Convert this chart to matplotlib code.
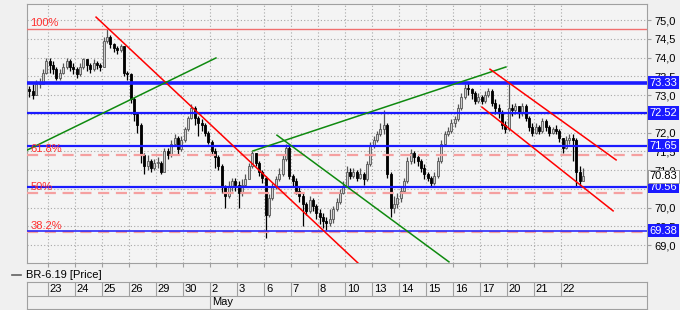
import matplotlib.pyplot as plt
from matplotlib.lines import Line2D
import matplotlib.transforms as mtransforms

plt.rcParams['font.family'] = ['Liberation Sans', 'DejaVu Sans']

# price bars per trading day (first group = tail of the previous day)
day_labels = ["23", "24", "25", "26", "29", "30", "2", "3", "6", "7", "8",
              "10", "13", "14", "15", "16", "17", "20", "21", "22"]
first_open = 73.15
closes = [
    [73.10, 73.00, 73.30, 73.30, 73.60, 73.90],
    [73.80, 73.70, 73.45, 73.60, 73.75, 73.90, 73.75, 73.70],
    [73.55, 73.75, 73.95, 73.80, 73.70, 73.85, 73.80, 73.75],
    [74.45, 74.55, 74.35, 74.25, 74.20, 74.30, 73.60, 73.55],
    [72.90, 72.50, 72.20, 71.40, 71.10, 71.25, 71.05, 71.20],
    [71.20, 70.95, 71.50, 71.40, 71.70, 71.85, 71.55, 71.80],
    [72.10, 72.40, 72.65, 72.40, 72.25, 72.20, 72.00, 71.75],
    [71.50, 71.35, 71.10, 70.55, 70.30, 70.55, 70.70, 70.60],
    [70.40, 70.60, 70.75, 71.10, 71.45, 71.20, 70.95, 70.80],
    [69.80, 70.25, 70.55, 70.75, 70.90, 71.30, 71.60, 70.85],
    [70.70, 70.45, 70.30, 70.10, 69.90, 70.20, 70.05, 69.85],
    [69.75, 69.65, 69.60, 69.70, 69.95, 70.15, 70.40, 70.55],
    [70.95, 70.85, 70.95, 70.80, 70.90, 70.75, 71.15, 71.65],
    [71.80, 71.95, 72.10, 72.20, 70.90, 70.00, 70.10, 70.25],
    [70.45, 70.70, 71.25, 71.45, 71.35, 71.25, 71.05, 70.90],
    [70.80, 70.65, 70.85, 71.25, 71.70, 71.95, 72.05, 72.25],
    [72.35, 72.65, 72.95, 73.20, 73.15, 73.05, 72.85, 72.95],
    [72.85, 73.00, 73.10, 72.80, 72.65, 72.55, 72.20, 72.10],
    [72.65, 72.60, 72.70, 72.55, 72.70, 72.40, 72.15, 72.00],
    [72.15, 72.05, 72.30, 72.15, 72.00, 72.10, 72.05, 71.85],
    [71.60, 71.80, 71.85, 71.80, 70.95, 70.70, 70.83],
]
highs = [
    [73.25, 73.30, 73.40, 73.45, 73.70, 74.00],
    [74.00, 73.90, 73.75, 73.70, 73.85, 74.00, 73.95, 73.85],
    [73.75, 73.85, 74.00, 73.95, 73.85, 73.95, 73.90, 73.85],
    [74.55, 74.75, 74.60, 74.40, 74.30, 74.35, 74.30, 73.65],
    [73.60, 72.95, 72.55, 72.25, 71.45, 71.40, 71.30, 71.30],
    [71.35, 71.25, 71.60, 71.60, 71.80, 71.95, 71.90, 71.90],
    [72.15, 72.45, 72.75, 72.70, 72.45, 72.35, 72.25, 72.05],
    [71.80, 71.60, 71.40, 71.15, 70.60, 70.70, 70.80, 70.80],
    [70.70, 70.75, 70.90, 71.20, 71.50, 71.45, 71.25, 71.00],
    [70.85, 70.35, 70.65, 70.85, 71.05, 71.40, 71.70, 71.65],
    [70.90, 70.80, 70.55, 70.40, 70.15, 70.30, 70.25, 70.10],
    [69.95, 69.85, 69.75, 69.95, 70.05, 70.25, 70.50, 70.70],
    [71.10, 71.05, 71.05, 71.00, 71.05, 70.95, 71.25, 71.75],
    [71.90, 72.05, 72.25, 72.60, 72.25, 70.95, 70.30, 70.40],
    [70.55, 70.80, 71.35, 71.55, 71.50, 71.40, 71.30, 71.15],
    [70.95, 70.85, 70.95, 71.35, 71.80, 72.05, 72.15, 72.35],
    [72.45, 72.75, 73.05, 73.30, 73.35, 73.20, 73.10, 73.05],
    [73.00, 73.10, 73.20, 73.15, 72.90, 72.75, 72.60, 72.30],
    [73.30, 72.75, 72.80, 72.70, 72.80, 72.75, 72.45, 72.25],
    [72.25, 72.20, 72.40, 72.35, 72.20, 72.15, 72.20, 72.10],
    [71.85, 71.90, 71.95, 71.95, 71.85, 71.10, 71.05],
]
lows = [
    [72.95, 72.90, 73.00, 73.20, 73.30, 73.55],
    [73.60, 73.55, 73.40, 73.40, 73.55, 73.70, 73.65, 73.55],
    [73.45, 73.50, 73.70, 73.65, 73.60, 73.65, 73.70, 73.65],
    [73.75, 74.40, 74.25, 74.15, 74.10, 74.15, 73.50, 73.40],
    [72.80, 72.30, 72.00, 71.20, 70.90, 71.00, 70.95, 71.00],
    [71.05, 70.90, 70.95, 71.30, 71.35, 71.65, 71.40, 71.50],
    [71.75, 72.05, 72.35, 72.20, 71.90, 72.05, 71.90, 71.70],
    [71.40, 71.05, 71.00, 70.40, 70.00, 70.25, 70.45, 70.45],
    [70.00, 70.30, 70.55, 70.75, 71.05, 71.10, 70.85, 70.65],
    [69.20, 69.75, 70.20, 70.50, 70.70, 70.85, 71.25, 70.75],
    [70.55, 70.35, 70.15, 69.50, 69.80, 69.85, 69.90, 69.70],
    [69.55, 69.45, 69.40, 69.50, 69.60, 69.90, 70.10, 70.35],
    [70.55, 70.75, 70.80, 70.70, 70.75, 70.60, 70.70, 71.10],
    [71.60, 71.75, 71.90, 71.95, 70.80, 69.75, 69.85, 70.00],
    [70.15, 70.40, 70.65, 71.15, 71.20, 71.10, 70.95, 70.75],
    [70.70, 70.55, 70.60, 70.80, 71.20, 71.65, 71.90, 72.00],
    [72.15, 72.30, 72.60, 72.90, 73.00, 72.90, 72.75, 72.80],
    [72.75, 72.80, 72.95, 72.70, 72.50, 72.40, 72.10, 72.00],
    [72.05, 72.45, 72.50, 72.40, 72.45, 72.30, 72.05, 71.90],
    [71.95, 71.95, 72.00, 72.05, 71.90, 71.95, 71.95, 71.75],
    [71.45, 71.55, 71.70, 71.25, 70.55, 70.55, 70.75],
]

# support / resistance levels and fibonacci retracement
blue_levels = [73.33, 72.52, 71.65, 70.56, 69.38]
blue_widths = [2.6, 1.6, 1.6, 1.6, 1.1]
fib_levels = [74.75, 71.41, 70.375, 69.34]
fib_labels = ["100%", "61.8%", "50%", "38.2%"]
last_price = 70.83
y_ticks = [69.0, 69.5, 70.0, 70.5, 71.0, 71.5, 72.0, 72.5, 73.0, 73.5, 74.0, 74.5, 75.0]
hidden_ticks = [70.5, 72.5]  # covered by the value boxes

# trend lines: (x0 day, p0), (x1 day, p1), colour
trend_lines = [
    ((1.78, 75.08), (11.48, 68.52), "#ff0000"),
    ((-0.78, 71.53), (6.22, 73.99), "#0f8a0f"),
    ((7.59, 71.51), (16.96, 73.75), "#0f8a0f"),
    ((8.48, 71.93), (14.85, 68.55), "#0f8a0f"),
    ((16.37, 73.69), (21.04, 71.27), "#ff0000"),
    ((16.07, 72.68), (20.93, 69.91), "#ff0000"),
]

W, H = 680, 310
fig = plt.figure(figsize=(6.8, 3.1), dpi=100, facecolor="#f0f0f0")
ax = fig.add_axes([27 / W, 1 - 263 / H, 620 / W, 259 / H], facecolor="#f4f4f4")
x_lo, x_hi = -0.778, 22.185
ax.set_xlim(x_lo, x_hi)
ax.set_ylim(68.52, 75.43)

# grid
for t in y_ticks:
    ax.axhline(t, color="#a8a8a8", lw=0.8, ls=(0, (1, 2)), zorder=1)
for d in range(len(day_labels)):
    ax.axvline(d, color="#a8a8a8", lw=0.8, ls=(0, (1, 2)), zorder=1)

# candles
prev = first_open
for g, (cs, hs, ls) in enumerate(zip(closes, highs, lows)):
    day = g - 1
    start = 2 if g == 0 else 0
    for s, (c, h, l) in enumerate(zip(cs, hs, ls)):
        x = day + (s + start + 0.5) / 8
        o = prev
        up = c >= o
        ax.vlines(x, l, h, color="#555555" if up else "#000000", lw=0.9, zorder=2)
        ax.bar(x, max(abs(c - o), 0.02), bottom=min(o, c), width=0.07,
               color="#cfcfcf" if up else "#000000",
               edgecolor="#555555" if up else "#000000", lw=0.6, zorder=2)
        prev = c

# fibonacci lines
ax.axhline(fib_levels[0], color="#f07070", lw=1.0, zorder=3)
for lv in fib_levels[1:]:
    ax.axhline(lv, color="#f5a0a0", lw=1.6, ls=(0, (5, 3)), zorder=3)
for lv, lab in zip(fib_levels, fib_labels):
    ax.text(x_lo + 0.12, lv + 0.03, lab, color="#ff3030", fontsize=8,
            va="bottom", ha="left", zorder=4)

# horizontal levels
for lv, lw in zip(blue_levels, blue_widths):
    ax.axhline(lv, color="#1a1aff", lw=lw, zorder=3)

# trend lines
for (x0, p0), (x1, p1), col in trend_lines:
    ax.plot([x0, x1], [p0, p1], color=col, lw=1.1, zorder=3)

# axes styling
for sp in ax.spines.values():
    sp.set_color("#a0a0a0")
    sp.set_linewidth(0.8)
ax.yaxis.tick_right()
ax.set_yticks(y_ticks)
ax.set_yticklabels(["" if t in hidden_ticks else f"{t:.1f}".replace(".", ",")
                    for t in y_ticks])
ax.tick_params(axis="y", length=3, color="#a0a0a0", labelsize=8, pad=2)
ax.set_xticks(range(len(day_labels)))
ax.set_xticklabels([])
ax.tick_params(axis="x", length=3, color="#a0a0a0")

# right side value boxes
tr = mtransforms.blended_transform_factory(ax.transAxes, ax.transData)
for lv in blue_levels:
    ax.text(1.004, lv, f"{lv:.2f}", transform=tr, color="white", fontsize=8,
            va="center", ha="left", clip_on=False, zorder=6,
            bbox=dict(facecolor="#1a1aff", edgecolor="none", pad=1.2))
ax.text(1.004, last_price, f"{last_price:.2f}", transform=tr, color="black",
        fontsize=8, va="center", ha="left", clip_on=False, zorder=6,
        bbox=dict(facecolor="white", edgecolor="#909090", lw=0.6, pad=1.0))

# legend row
fig.add_artist(Line2D([12 / W, 21 / W], [1 - 275 / H] * 2, color="#606060", lw=1.2))
fig.text(26 / W, 1 - 275 / H, "BR-6.19 [Price]", fontsize=8, va="center", ha="left")

# date table
tab = fig.add_axes([27 / W, 1 - 309 / H, 620 / W, 27 / H], facecolor="#f0f0f0")
tab.set_xlim(x_lo, x_hi)
tab.set_ylim(0, 2)
tab.set_xticks([])
tab.set_yticks([])
for sp in tab.spines.values():
    sp.set_color("#a0a0a0")
    sp.set_linewidth(0.8)
tab.axhline(1, color="#a0a0a0", lw=0.8)
for d, lab in enumerate(day_labels):
    tab.vlines(d, 1, 2, color="#a0a0a0", lw=0.8)
    tab.text(d + 0.07, 1.5, lab, fontsize=8, va="center", ha="left")
may_idx = day_labels.index("2")
tab.vlines(may_idx, 0, 1, color="#a0a0a0", lw=0.8)
tab.text(may_idx + 0.07, 0.5, "May", fontsize=8, va="center", ha="left")

fig.savefig("out.png", dpi=100, facecolor=fig.get_facecolor())
